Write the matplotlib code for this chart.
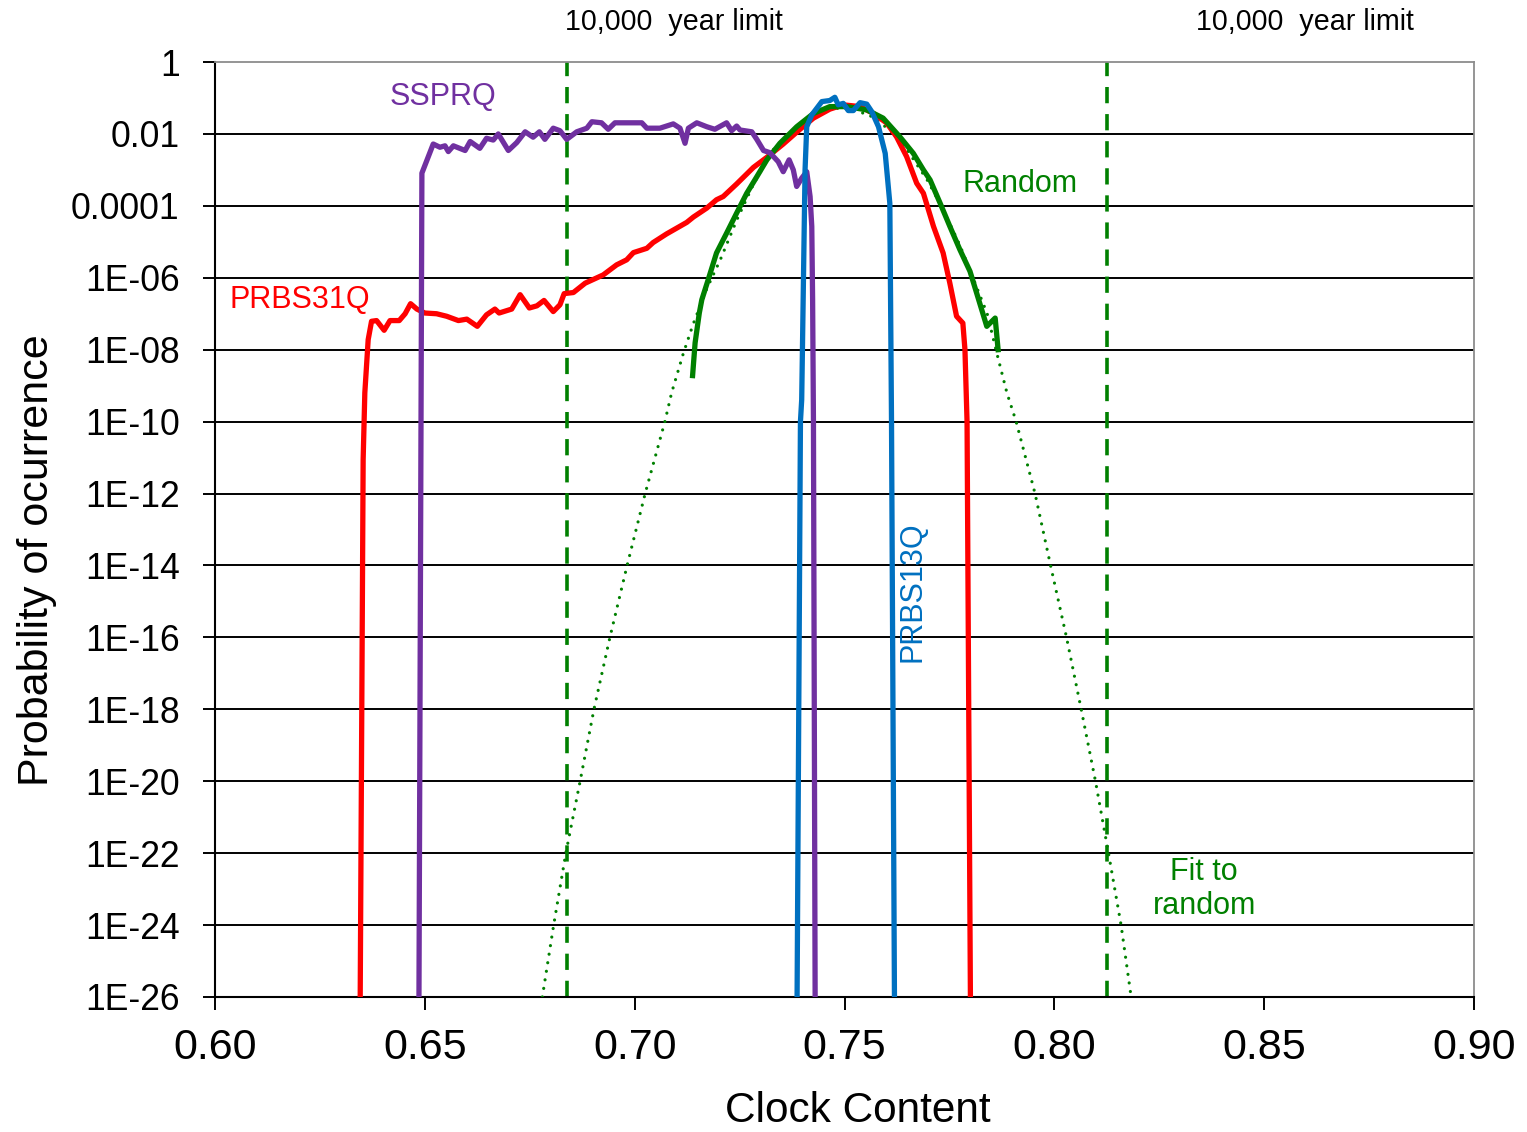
import numpy as np
import matplotlib
matplotlib.use("Agg")
import matplotlib.pyplot as plt
import matplotlib.transforms as mtransforms

plt.rcParams['font.family'] = ['Liberation Sans', 'DejaVu Sans']

# ---------------- data (clock content, log10 probability) ----------------
prbs31q_x = [0.6346, 0.6353, 0.6357, 0.6365, 0.6373, 0.6385, 0.6403, 0.6417, 0.6439, 0.6453,
             0.6466, 0.6481, 0.6500, 0.6528, 0.6552, 0.6580, 0.6600, 0.6625, 0.6647, 0.6667,
             0.6677, 0.6707, 0.6727, 0.6749, 0.6767, 0.6784, 0.6806, 0.6822, 0.6832, 0.6854,
             0.6882, 0.6925, 0.6957, 0.6981, 0.6997, 0.7029, 0.7044, 0.7076, 0.7124, 0.7140,
             0.7172, 0.7195, 0.7211, 0.7243, 0.7283, 0.7315, 0.7354, 0.7394, 0.7426, 0.7465,
             0.7497, 0.7537, 0.7569, 0.7601, 0.7624, 0.7648, 0.7672, 0.7688, 0.7712, 0.7735,
             0.7751, 0.7767, 0.7782, 0.7787, 0.7792, 0.7800]
prbs31q_log = [-26, -11.06, -9.2, -7.72, -7.21, -7.19, -7.46, -7.19, -7.19, -7.00,
               -6.72, -6.87, -6.98, -7.00, -7.07, -7.19, -7.15, -7.35, -7.03, -6.87,
               -6.98, -6.87, -6.47, -6.84, -6.78, -6.63, -6.94, -6.75, -6.44, -6.41,
               -6.15, -5.92, -5.64, -5.50, -5.30, -5.18, -5.02, -4.78, -4.46, -4.31,
               -4.06, -3.83, -3.74, -3.39, -2.93, -2.65, -2.28, -1.87, -1.56, -1.31,
               -1.19, -1.24, -1.43, -1.70, -2.08, -2.63, -3.37, -3.65, -4.57, -5.31,
               -6.15, -7.07, -7.26, -8.00, -10.0, -26]

ssprq_x = [0.6486, 0.6493, 0.6520, 0.6536, 0.6548, 0.6556, 0.6568, 0.6596, 0.6608, 0.6631,
           0.6647, 0.6663, 0.6675, 0.6699, 0.6719, 0.6739, 0.6758, 0.6773, 0.6786, 0.6806,
           0.6822, 0.6838, 0.6862, 0.6886, 0.6898, 0.6921, 0.6937, 0.6953, 0.7017, 0.7029,
           0.7060, 0.7092, 0.7108, 0.7120, 0.7128, 0.7148, 0.7172, 0.7191, 0.7219, 0.7231,
           0.7243, 0.7251, 0.7279, 0.7291, 0.7307, 0.7322, 0.7342, 0.7354, 0.7368, 0.7378,
           0.7386, 0.7398, 0.7410, 0.7418, 0.7422, 0.7424, 0.7426, 0.7430]
ssprq_log = [-26, -3.09, -2.28, -2.37, -2.33, -2.49, -2.33, -2.46, -2.21, -2.40,
             -2.12, -2.17, -2.00, -2.46, -2.24, -1.94, -2.09, -1.94, -2.15, -1.84,
             -1.91, -2.15, -1.94, -1.84, -1.66, -1.69, -1.87, -1.69, -1.69, -1.84,
             -1.84, -1.72, -1.84, -2.26, -1.84, -1.69, -1.80, -1.87, -1.69, -1.91,
             -1.78, -1.89, -1.94, -2.15, -2.46, -2.52, -2.77, -3.05, -2.72, -3.00,
             -3.46, -3.23, -3.05, -3.74, -4.57, -6.6, -10.0, -26]

prbs13q_x = [0.7387, 0.7395, 0.7398, 0.7406, 0.7410, 0.7422, 0.7446, 0.7465, 0.7477, 0.7485,
             0.7497, 0.7509, 0.7521, 0.7537, 0.7553, 0.7565, 0.7581, 0.7597, 0.7608, 0.7612,
             0.7619]
prbs13q_log = [-26, -10.0, -9.39, -3.00, -1.80, -1.47, -1.10, -1.07, -0.98, -1.19,
               -1.15, -1.35, -1.35, -1.13, -1.17, -1.38, -1.80, -2.54, -3.93, -10.0,
               -26]

random_x = [0.7138, 0.7144, 0.7154, 0.7160, 0.7175, 0.7195, 0.7219, 0.7243, 0.7267, 0.7291,
            0.7315, 0.7346, 0.7386, 0.7426, 0.7465, 0.7505, 0.7553, 0.7592, 0.7632, 0.7664,
            0.7688, 0.7704, 0.7728, 0.7751, 0.7775, 0.7799, 0.7815, 0.7839, 0.7859, 0.7866]
random_log = [-8.72, -7.81, -6.98, -6.61, -6.06, -5.31, -4.76, -4.20, -3.65, -3.19,
              -2.72, -2.26, -1.80, -1.43, -1.24, -1.24, -1.33, -1.56, -2.08, -2.54,
              -3.00, -3.28, -3.93, -4.57, -5.22, -5.82, -6.43, -7.35, -7.12, -8.00]

fit_x = [0.6780, 0.6807, 0.6836, 0.6870, 0.6903, 0.6941, 0.6982, 0.7025, 0.7072, 0.7088,
         0.7116, 0.7139, 0.7172, 0.7204, 0.7243, 0.7283, 0.7330, 0.7377, 0.7425, 0.7473,
         0.7520, 0.7568, 0.7616, 0.7649, 0.7697, 0.7735, 0.7775, 0.7806, 0.7840, 0.7863,
         0.7887, 0.7909, 0.7954, 0.7991, 0.8029, 0.8064, 0.8098, 0.8129, 0.8159, 0.8183]
fit_log = [-26, -24, -22, -20, -18, -16, -14, -12, -10, -9.2,
           -8.1, -7.3, -6.3, -5.5, -4.4, -3.4, -2.44, -1.9, -1.47, -1.28,
           -1.31, -1.53, -1.97, -2.44, -3.28, -4.1, -5.1, -6.0, -7.0, -8.1,
           -9.2, -10, -12, -14, -16, -18, -20, -22, -24, -26]

limit_x = [0.6839, 0.8126]

x_ticks = [0.60, 0.65, 0.70, 0.75, 0.80, 0.85, 0.90]
x_ticklabels = ['0.60', '0.65', '0.70', '0.75', '0.80', '0.85', '0.90']
y_ticks = [1, 1e-2, 1e-4, 1e-6, 1e-8, 1e-10, 1e-12, 1e-14, 1e-16, 1e-18, 1e-20,
           1e-22, 1e-24, 1e-26]
y_ticklabels = ['1', '0.01', '0.0001', '1E-06', '1E-08', '1E-10', '1E-12', '1E-14',
                '1E-16', '1E-18', '1E-20', '1E-22', '1E-24', '1E-26']

RED = '#FF0000'
PURPLE = '#7030A0'
BLUE = '#0070C0'
GREEN = '#008000'

def p(v):
    return 10.0 ** np.asarray(v, dtype=float)

# ---------------- figure ----------------
fig = plt.figure(figsize=(15.27, 11.32), dpi=100)
ax = fig.add_axes([0.1408, 0.1193, 0.8245, 0.8259])

ax.set_yscale('log')
ax.set_xlim(0.60, 0.90)
ax.set_ylim(1e-26, 1)

for yt in y_ticks[1:]:
    ax.axhline(yt, color='black', lw=1.4, zorder=1)

# 10,000 year limit lines
for lx in limit_x:
    ax.axvline(lx, color=GREEN, lw=2.6, linestyle=(0, (4.5, 3.0)), zorder=2)

ax.plot(fit_x, p(fit_log), color=GREEN, lw=2.3, linestyle=(0, (0.01, 2.7)),
        dash_capstyle='round', zorder=3)
ax.plot(prbs31q_x, p(prbs31q_log), color=RED, lw=3.8, zorder=4, solid_joinstyle='round')
ax.plot(random_x, p(random_log), color=GREEN, lw=3.8, zorder=5, solid_joinstyle='round')
ax.plot(ssprq_x, p(ssprq_log), color=PURPLE, lw=3.8, zorder=6, solid_joinstyle='round')
ax.plot(prbs13q_x, p(prbs13q_log), color=BLUE, lw=3.8, zorder=7, solid_joinstyle='round')

# ticks
ax.set_xticks(x_ticks)
ax.set_xticklabels(x_ticklabels, fontsize=31)
ax.set_yticks(y_ticks)
ax.set_yticklabels(y_ticklabels, fontsize=25.6)
ax.minorticks_off()
ax.tick_params(axis='y', direction='out', length=8.5, width=1.4, pad=17, colors='black')
ax.tick_params(axis='x', direction='out', length=9, width=1.4, pad=13, colors='black')

for s in ['left', 'bottom']:
    ax.spines[s].set_color('black')
    ax.spines[s].set_linewidth(1.5)
for s in ['top', 'right']:
    ax.spines[s].set_color('#8c8c8c')
    ax.spines[s].set_linewidth(1.3)

ax.set_xlabel('Clock Content', fontsize=30.5)
ax.set_ylabel('Probability of ocurrence', fontsize=31)
ax.xaxis.set_label_coords(0.5107, -0.1005)
ax.yaxis.set_label_coords(-0.1252, 0.467)

# annotations
txt_kw = dict(fontsize=22, ha='center', va='center')
ax.text(0.6543, 10 ** -0.97, 'SSPRQ', color=PURPLE, **txt_kw)
ax.text(0.6203, 10 ** -6.61, 'PRBS31Q', color=RED, **txt_kw)
ax.text(0.7918, 10 ** -3.39, 'Random', color=GREEN, **txt_kw)
ax.text(0.7661, 10 ** -14.72, 'PRBS13Q', color=BLUE, rotation=90, **txt_kw)
ax.text(0.8357, 10 ** -23.0, 'Fit to\nrandom', color=GREEN, linespacing=1.2, **txt_kw)

trans = mtransforms.blended_transform_factory(ax.transData, ax.transAxes)
ax.text(0.7094, 1.0428, '10,000  year limit', transform=trans, fontsize=20.6,
        ha='center', va='center', color='black')
ax.text(0.8597, 1.0428, '10,000  year limit', transform=trans, fontsize=20.6,
        ha='center', va='center', color='black')

fig.savefig('out.png', dpi=100)
